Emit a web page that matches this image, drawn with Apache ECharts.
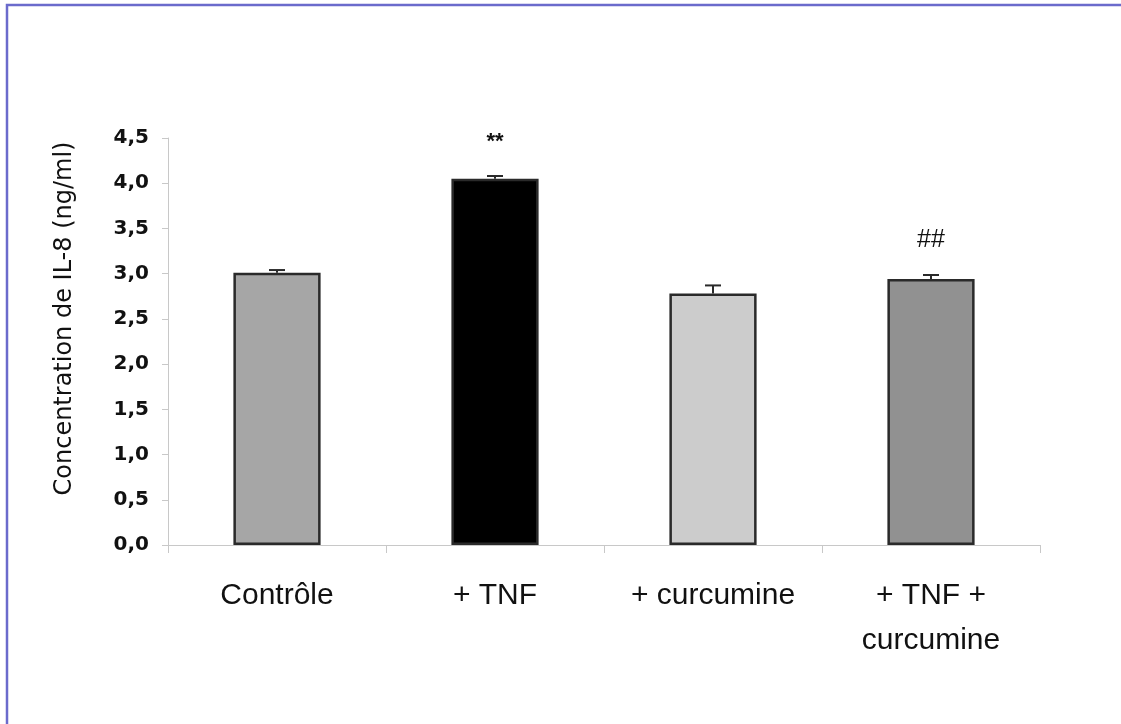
<!DOCTYPE html>
<html>
<head>
<meta charset="utf-8">
<script src="https://cdn.jsdelivr.net/npm/echarts@6/dist/echarts.min.js"></script>
<style>
  html, body { margin: 0; padding: 0; background: #fff; }
  #chart { width: 1121px; height: 724px; }
</style>
</head>
<body>
<div id="chart"></div>
<script>
// chart data
const categories = ['Contrôle', '+ TNF', '+ curcumine', '+ TNF +\ncurcumine'];
const values = [3.01, 4.05, 2.78, 2.94];
const errors = [0.03, 0.03, 0.09, 0.045];
const barColors = ['#a6a6a6', '#000000', '#cccccc', '#919191'];
const marks = ['', '**', '', '##'];
const yTicks = [0, 0.5, 1, 1.5, 2, 2.5, 3, 3.5, 4, 4.5];

let chart = echarts.init(document.getElementById('chart'));

const font = 'Liberation Sans, Arial, sans-serif';
const wideFont = 'DejaVu Sans, sans-serif';

const option = {
    animation: false,
    graphic: [
        {
            type: 'rect',
            shape: { x: 7, y: 5, width: 2000, height: 2000 },
            style: { fill: 'none', stroke: '#6b6bcc', lineWidth: 2.5 },
        },
    ],
    grid: { left: 168, right: 81, top: 138, bottom: 179 },
    xAxis: {
        type: 'category',
        data: categories,
        axisLine: { lineStyle: { color: '#c8c8c8', width: 1 } },
        axisTick: { show: true, length: 8, lineStyle: { color: '#c8c8c8' } },
        axisLabel: {
            color: '#111',
            fontFamily: font,
            fontSize: 30,
            margin: 28,
            lineHeight: 45,
        },
    },
    yAxis: {
        type: 'value',
        min: yTicks[0],
        max: yTicks[yTicks.length - 1],
        interval: 0.5,
        name: 'Concentration de IL-8 (ng/ml)',
        nameLocation: 'middle',
        nameGap: 91,
        nameTextStyle: {
            color: '#111',
            fontFamily: wideFont,
            fontSize: 24,
            padding: [0, 0, 0, 46],
        },
        axisLine: { show: true, lineStyle: { color: '#c8c8c8', width: 1 } },
        axisTick: { show: true, length: 6, lineStyle: { color: '#c8c8c8' } },
        splitLine: { show: false },
        axisLabel: {
            color: '#111',
            fontFamily: wideFont,
            fontSize: 20,
            fontWeight: 'bold',
            margin: 19,
            formatter: function (v) {
                return v.toFixed(1).replace('.', ',');
            },
        },
    },
    series: [
        {
            type: 'bar',
            barWidth: '40%',
            data: values.map(function (v, i) {
                return {
                    value: v,
                    itemStyle: { color: barColors[i], borderColor: '#2a2a2a', borderWidth: 2.5 },
                    label: {
                        show: marks[i] !== '',
                        position: 'top',
                        distance: 26,
                        formatter: marks[i],
                        color: '#111',
                        fontFamily: font,
                        fontSize: i === 1 ? 22 : 25,
                        fontWeight: i === 1 ? 'bold' : 'normal',
                    },
                };
            }),
        },
        {
            type: 'custom',
            z: 5,
            data: values.map(function (v, i) { return [i, v, v + errors[i]]; }),
            renderItem: function (params, api) {
                const base = api.coord([api.value(0), api.value(1)]);
                const top = api.coord([api.value(0), api.value(2)]);
                const half = 8;
                return {
                    type: 'group',
                    children: [
                        {
                            type: 'line',
                            shape: { x1: base[0], y1: base[1], x2: top[0], y2: top[1] },
                            style: { stroke: '#2a2a2a', lineWidth: 2 },
                        },
                        {
                            type: 'line',
                            shape: { x1: top[0] - half, y1: top[1], x2: top[0] + half, y2: top[1] },
                            style: { stroke: '#2a2a2a', lineWidth: 2 },
                        },
                    ],
                };
            },
        },
    ],
};

chart.setOption(option);
</script>
</body>
</html>
